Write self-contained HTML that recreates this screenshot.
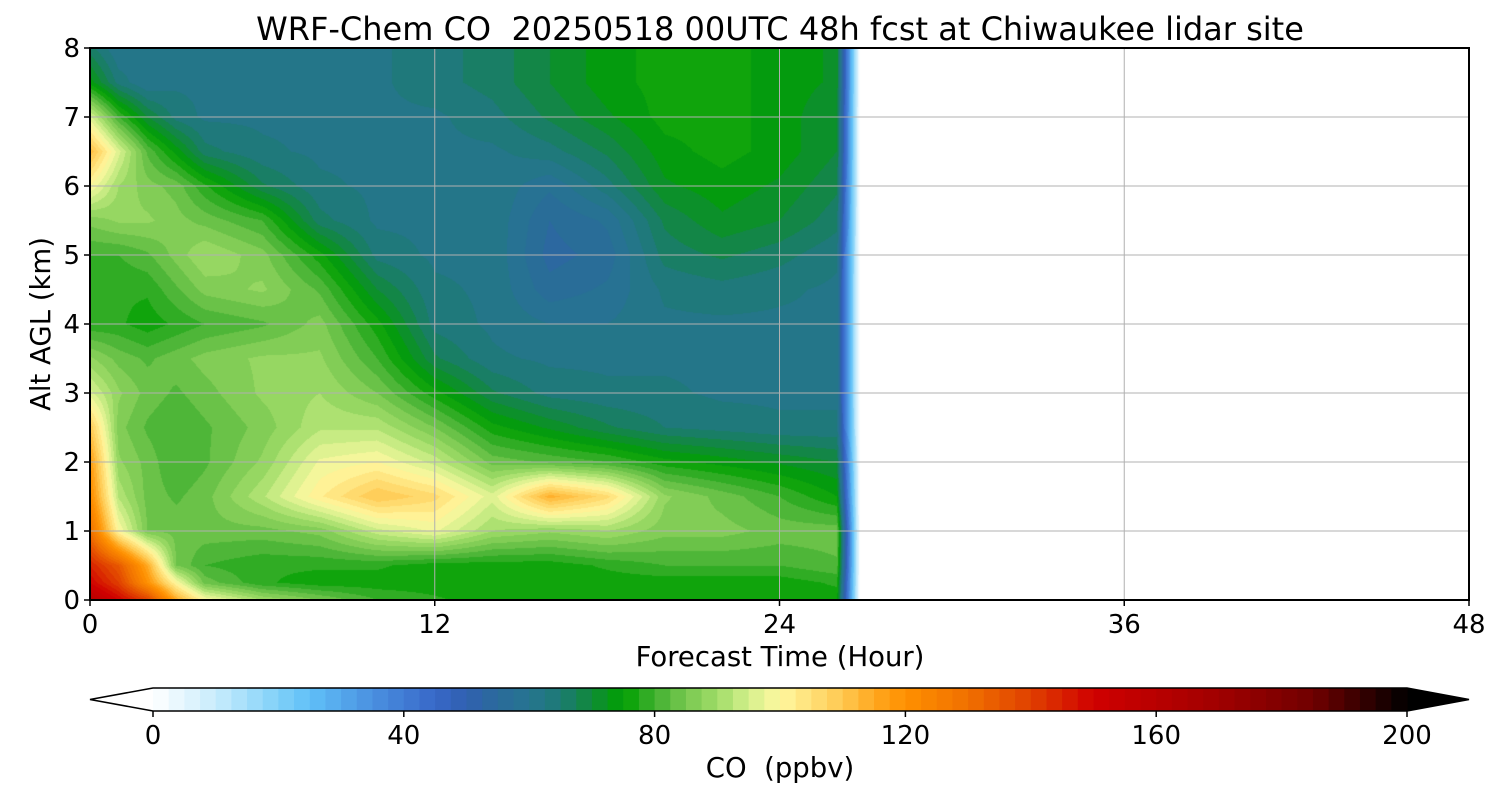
<!DOCTYPE html>
<html><head><meta charset="utf-8"><style>
body{margin:0;background:#fff;width:1500px;height:800px;overflow:hidden;font-family:"DejaVu Sans","Liberation Sans",sans-serif}
#wrap{position:relative;width:1500px;height:800px}
canvas{position:absolute;left:90px;top:48px}
svg{position:absolute;left:0;top:0}
svg text{white-space:pre}
</style></head><body><div id="wrap">
<canvas id="cv" width="1379" height="552"></canvas>
<svg id="sv" width="1500" height="800" font-family="DejaVu Sans, Liberation Sans, sans-serif"></svg>
</div>
<script>
const times=[0,1,2,3,4,6,8,10,12,14,16,18,20,22,24,26,26.8];
const alts=[0,0.25,0.5,1,1.5,2,2.5,3,3.5,4,4.5,5,5.5,6,6.5,7,7.5,8];
const coValues=[
[160,150,140,115,100,90,85,80,78,76,76,76,76,76,76,76,0],
[150,140,120,100,84,78,76,76,76,76,76,76,76,76,76,78,0],
[145,135,115,85,80,78,78,78,76,76,76,78,80,80,80,82,0],
[130,100,85,84,84,84,86,94,98,90,88,90,86,86,84,84,0],
[122,92,84,82,84,92,102,110,106,96,114,106,88,84,80,75,0],
[118,88,84,80,82,88,98,100,94,84,82,80,76,74,72,70,0],
[110,86,82,80,82,86,92,92,85,76,72,68,65,64,63,63,0],
[96,88,84,82,84,88,90,85,76,68,64,63,63,62,62,62,0],
[88,84,82,84,86,88,88,80,68,63,62,62,62,62,62,62,0],
[78,78,76,78,80,82,86,76,64,62,60,60,62,62,62,62,0],
[78,78,78,82,86,88,82,70,63,62,56,58,63,64,63,62,0],
[80,80,82,86,90,86,76,64,62,62,54,56,66,68,66,63,0],
[86,88,88,86,84,80,66,62,62,62,55,58,68,72,70,66,0],
[100,90,86,84,78,68,63,62,62,62,58,64,72,74,72,68,0],
[112,96,82,74,66,63,62,62,62,62,64,68,74,76,74,70,0],
[96,80,70,64,62,62,62,62,62,64,68,72,76,76,74,70,0],
[74,64,60,62,62,62,62,62,64,66,70,74,76,76,74,72,0],
[66,60,62,62,62,62,62,62,64,66,70,74,76,76,74,72,0]];
const xTicks=[0,12,24,36,48];
const yTicks=[0,1,2,3,4,5,6,7,8];
const cbTicks=[0,40,80,120,160,200];
const cmapVals=[0,10,20,25,35,45,50,55,60,65,70,75,80,85,90,95,100,105,110,115,120,130,140,150,170,185,200];
const cmapCols=["#ffffff","#c8ecfc","#80d0f8","#60c0f8","#4a90e0","#3868c8","#3060b0","#2a6a9a","#267490","#1c7a74","#108a38","#00a000","#40b030","#78c850","#a0dc68","#d4f08c","#fff8a0","#ffe078","#ffc850","#ffa820","#ff9000","#f07000","#e04000","#d00000","#a00000","#700000","#000000"];
const X0=90,X1=1469,Y0=600,Y1=48;
const xs=t=>X0+(X1-X0)*t/48, ys=z=>Y0-(Y0-Y1)*z/8;
function hex(c){return [parseInt(c.slice(1,3),16),parseInt(c.slice(3,5),16),parseInt(c.slice(5,7),16)];}
const cm=cmapCols.map(hex);
function col(v){v=Math.max(0,Math.min(200,v));let i=0;while(i<cmapVals.length-2&&v>cmapVals[i+1])i++;const f=(v-cmapVals[i])/(cmapVals[i+1]-cmapVals[i]);return cm[i].map((a,k)=>Math.round(a+(cm[i+1][k]-a)*f));}
function lvl(v){return Math.floor(v/2.5)*2.5+1.25;}
const cv=document.getElementById('cv'),ctx=cv.getContext('2d');
const img=ctx.createImageData(cv.width,cv.height);
const tMax=times[times.length-1];
for(let py=0;py<cv.height;py++){const z=8*(1-(py+0.5)/cv.height);let j=0;while(j<alts.length-2&&z>alts[j+1])j++;const fz=(z-alts[j])/(alts[j+1]-alts[j]);
for(let px=0;px<cv.width;px++){const t=48*(px+0.5)/cv.width;if(t>tMax)continue;let i=0;while(i<times.length-2&&t>times[i+1])i++;const ft=(t-times[i])/(times[i+1]-times[i]);
const v=(coValues[j][i]*(1-ft)+coValues[j][i+1]*ft)*(1-fz)+(coValues[j+1][i]*(1-ft)+coValues[j+1][i+1]*ft)*fz;
const c=col(lvl(v));const o=(py*cv.width+px)*4;img.data[o]=c[0];img.data[o+1]=c[1];img.data[o+2]=c[2];img.data[o+3]=255;}}
ctx.putImageData(img,0,0);
const sv=document.getElementById('sv'),NS="http://www.w3.org/2000/svg";
function el(tag,a,txt){const e=document.createElementNS(NS,tag);for(const k in a)e.setAttribute(k,a[k]);if(txt!==undefined)e.textContent=txt;sv.appendChild(e);return e;}
xTicks.forEach(t=>{if(t>0&&t<48){const g=el('line',{x1:xs(t),x2:xs(t),y1:Y1,y2:Y0,stroke:'#b0b0b0','stroke-width':1});}
el('line',{x1:xs(t),x2:xs(t),y1:Y0,y2:Y0+6,stroke:'#000','stroke-width':1.5});
const l=el('text',{x:xs(t),y:633,'font-size':26,'text-anchor':'middle'},String(t));});
yTicks.forEach(z=>{if(z>0&&z<8){const g=el('line',{x1:X0,x2:X1,y1:ys(z),y2:ys(z),stroke:'#b0b0b0','stroke-width':1});}
el('line',{x1:X0-6,x2:X0,y1:ys(z),y2:ys(z),stroke:'#000','stroke-width':1.5});
const l=el('text',{x:X0-10,y:ys(z)+9,'font-size':26,'text-anchor':'end'},String(z));});
const fr=el('rect',{x:X0,y:Y1,width:X1-X0,height:Y0-Y1,fill:'none',stroke:'#000','stroke-width':2});
let e=el('text',{x:780,y:40,'font-size':32,'text-anchor':'middle'},'WRF-Chem CO  20250518 00UTC 48h fcst at Chiwaukee lidar site');
e=el('text',{x:780,y:666,'font-size':27.5,'text-anchor':'middle'},'Forecast Time (Hour)');
e=el('text',{x:50,y:324,'font-size':27.5,'text-anchor':'middle',transform:'rotate(-90 50 324)'},'Alt AGL (km)');
const C0=153,C1=1407,CT=688,CB=711,cx=v=>C0+(C1-C0)*v/200;
e=el('polygon',{points:`${C0},${CT} 90,${(CT+CB)/2} ${C0},${CB}`,fill:'#fff'});
e=el('polygon',{points:`${C1},${CT} 1469,${(CT+CB)/2} ${C1},${CB}`,fill:'#000'});
for(let v=0;v<200;v+=2.5){const c=col(v+1.25);const r=el('rect',{x:cx(v),y:CT,width:cx(v+2.5)-cx(v)+0.6,height:CB-CT,fill:`rgb(${c})`});}
e=el('polygon',{points:`${C0},${CT} ${C1},${CT} 1469,${(CT+CB)/2} ${C1},${CB} ${C0},${CB} 90,${(CT+CB)/2}`,fill:'none',stroke:'#000','stroke-width':1.5});
cbTicks.forEach(v=>{el('line',{x1:cx(v),x2:cx(v),y1:CB,y2:CB+6,stroke:'#000','stroke-width':1.5});const l=el('text',{x:cx(v),y:744,'font-size':26,'text-anchor':'middle'},String(v));});
e=el('text',{x:780,y:777,'font-size':27.5,'text-anchor':'middle'},'CO  (ppbv)');
</script></body></html>
